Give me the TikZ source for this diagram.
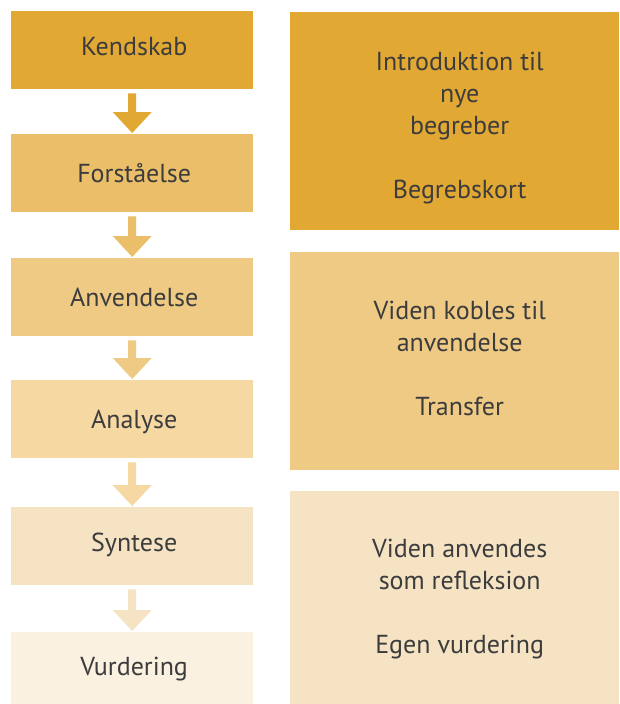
\documentclass[tikz,border=0pt]{standalone}
\usepackage{fontspec}
\setmainfont{PT Sans}
\usetikzlibrary{calc}
\definecolor{cA}{RGB}{226,168,52}
\definecolor{cB}{RGB}{235,190,106}
\definecolor{cC}{RGB}{239,202,133}
\definecolor{cD}{RGB}{245,216,162}
\definecolor{cE}{RGB}{245,227,195}
\definecolor{cF}{RGB}{250,241,224}
\definecolor{txt}{RGB}{60,60,60}
\begin{document}
\begin{tikzpicture}[x=1pt,y=-1pt,
  lbox/.style={rectangle,inner sep=0pt,minimum width=242pt,minimum height=78pt,anchor=north west},
  rbox/.style={rectangle,inner sep=0pt,minimum width=329pt,anchor=north west},
  ltext/.style={text=txt,font=\fontsize{26}{30}\selectfont,inner sep=0pt},
  rtext/.style={text=txt,align=center,font=\fontsize{26}{32}\selectfont,inner sep=0pt}
]
\useasboundingbox (0,0) rectangle (619,704);
\fill[white] (0,0) rectangle (619,704);
\node[lbox,fill=cA] (k) at (11,11) {};
\node[lbox,fill=cB] (f) at (11,134) {};
\node[lbox,fill=cC] (a) at (11,258) {};
\node[lbox,fill=cD] (n) at (11,380) {};
\node[lbox,fill=cE] (s) at (11,507) {};
\node[lbox,fill=cF,minimum height=72pt] (v) at (11,632) {};
\node[ltext] (lk) at ($(k.center)+(2,-4)$) {Kendskab};
\node[ltext] (lf) at ($(f.center)+(2,0)$) {Forståelse};
\node[ltext] (la) at ($(a.center)+(2,0)$) {Anvendelse};
\node[ltext] (ln) at ($(n.center)+(2,3)$) {Analyse};
\node[ltext] (ls) at ($(s.center)+(2,-1)$) {Syntese};
\node[ltext] (lv) at ($(v.center)+(2,1)$) {Vurdering};
\node[rbox,fill=cA,minimum height=218pt] (r1) at (290,12) {};
\node[rbox,fill=cC,minimum height=218pt] (r2) at (290,252) {};
\node[rbox,fill=cE,minimum height=213pt] (r3) at (290,491) {};
\node[rtext] (t1) at ($(r1.center)+(5,7)$) {Introduktion til\\nye\\begreber\\[32pt]Begrebskort};
\node[rtext] (t2) at ($(r2.center)+(5,-3)$) {Viden kobles til\\anvendelse\\[32pt]Transfer};
\node[rtext] (t3) at ($(r3.center)+(5,1)$) {Viden anvendes\\som refleksion\\[32pt]Egen vurdering};
\foreach \u/\d/\c in {k/f/cA, f/a/cB, a/n/cC, n/s/cD, s/v/cE}{
  \path (\u.south) ++(0,4) coordinate (t\u);
  \path (\d.north) ++(0,-1) coordinate (b\u);
  \fill[\c] ($(t\u)+(-4,0)$) -- ($(t\u)+(4,0)$) -- ($(b\u)+(4,-21)$) -- ($(b\u)+(19.5,-21)$) -- (b\u) -- ($(b\u)+(-19.5,-21)$) -- ($(b\u)+(-4,-21)$) -- cycle;
}
\end{tikzpicture}
\end{document}
